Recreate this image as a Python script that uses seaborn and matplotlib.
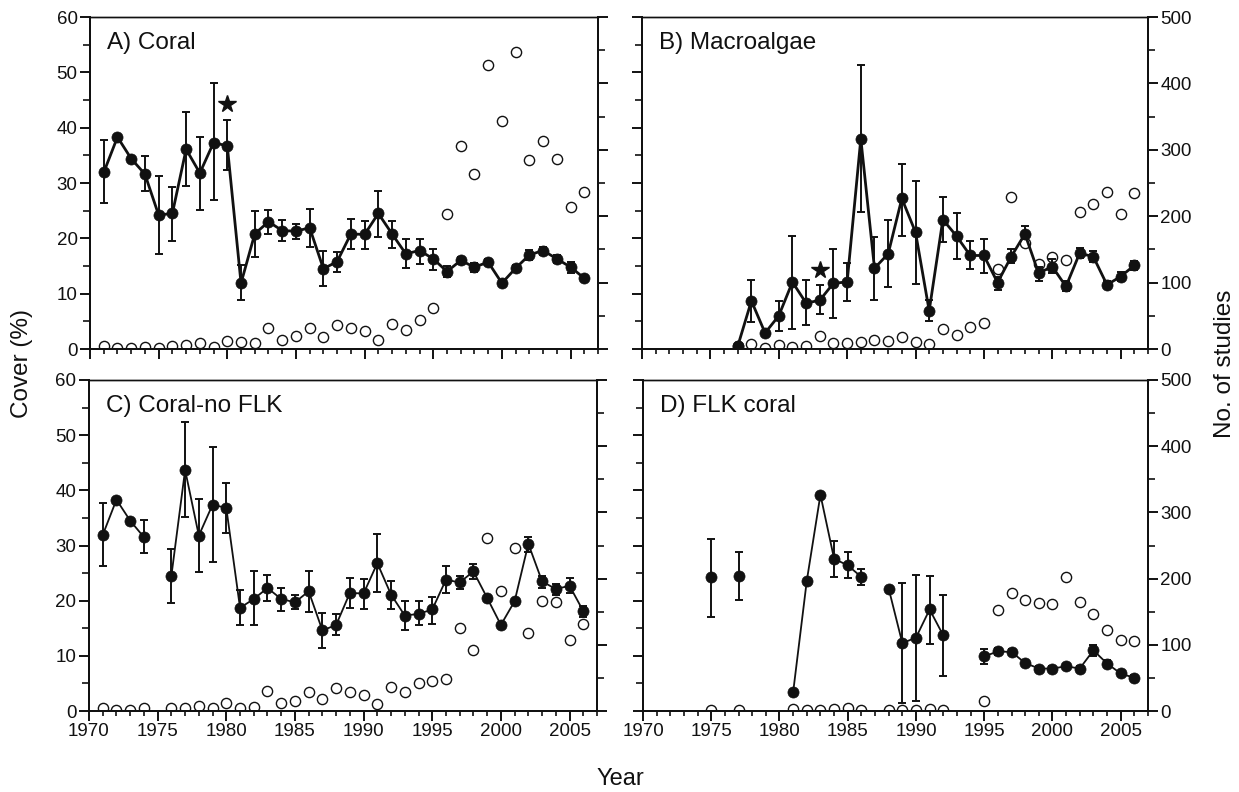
import numpy as np
import pandas as pd
import matplotlib
matplotlib.use("Agg")
import matplotlib.pyplot as plt
import seaborn as sns
from matplotlib.ticker import MultipleLocator

nan = np.nan

# ---------------- data ----------------
years_all = list(range(1971, 2007))

# A) Coral
a_cover = [31.9, 38.3, 34.4, 31.6, 24.2, 24.5, 36.1, 31.8, 37.3, 36.7, 11.9, 20.8,
           23.0, 21.4, 21.3, 21.9, 14.5, 15.8, 20.8, 20.7, 24.5, 20.8, 17.2, 17.8,
           16.3, 14.0, 16.0, 14.8, 15.7, 11.9, 14.6, 17.0, 17.8, 16.3, 14.8, 12.8]
a_hi = [37.7, nan, nan, 34.8, 31.3, 29.3, 42.9, 38.4, 48.0, 41.3, 15.1, 24.9,
        25.2, 23.4, 22.6, 25.3, 17.8, 17.6, 23.5, 23.2, 28.5, 23.1, 19.9, 19.9,
        18.0, 15.0, 16.6, 15.6, 16.3, 12.5, 15.2, 17.9, 18.5, 17.0, 15.8, 13.4]
a_lo = [26.3, nan, nan, 28.5, 17.2, 19.6, 29.4, 25.2, 27.0, 32.3, 8.8, 16.6,
        20.7, 19.5, 19.8, 18.4, 11.3, 14.0, 18.1, 18.0, 20.2, 18.3, 14.6, 15.4,
        14.3, 13.0, 15.4, 14.0, 15.1, 11.3, 14.0, 16.0, 17.0, 15.6, 13.8, 12.2]
a_studies = [5, 1.5, 1.5, 3, 1.5, 4, 5.5, 9, 3, 12.5, 10, 9, 31, 14, 19, 31, 18, 36,
             32, 27, 14, 38, 28, 43, 62, 204, 305, 263, 427, 344, 448, 284, 314, 286,
             214, 237]

# B) Macroalgae
b_years = list(range(1977, 2007))
b_cover = [0.5, 8.7, 2.9, 6.0, 12.1, 8.3, 8.8, 11.9, 12.1, 38.0, 14.6, 17.2, 27.2,
           21.1, 6.9, 23.4, 20.4, 16.9, 16.9, 12.0, 16.7, 20.8, 13.7, 14.9, 11.3,
           17.3, 16.7, 11.6, 13.1, 15.1]
b_hi = [nan, 12.4, nan, 8.7, 20.5, 12.4, 11.6, 18.1, 15.5, 51.3, 20.2, 23.3, 33.5,
        30.3, 8.9, 27.4, 24.6, 19.5, 19.9, 13.1, 18.0, 22.2, 14.9, 16.3, 12.2, 18.3,
        17.7, 12.2, 14.0, 15.9]
b_lo = [nan, 4.9, nan, 3.2, 3.6, 4.4, 6.3, 5.6, 8.6, 24.8, 8.9, 11.2, 20.5, 11.8,
        5.0, 19.3, 16.3, 14.5, 13.7, 10.7, 15.5, 19.8, 12.3, 13.7, 10.4, 16.4, 15.8,
        11.0, 12.2, 14.3]
b_studies = [4, 7.5, 1.5, 6.5, 2.5, 4, 19, 9, 9, 10, 14, 11.5, 18, 10, 7, 30, 21.6,
             33, 39, 120, 229, 159, 128, 139, 134, 207, 219, 237, 204, 235]

# C) Coral-no FLK
c_cover = [31.9, 38.3, 34.5, 31.5, nan, 24.5, 43.7, 31.8, 37.4, 36.8, 18.7, 20.3,
           22.3, 20.3, 19.7, 21.7, 14.6, 15.6, 21.4, 21.3, 26.8, 21.1, 17.3, 17.6,
           18.4, 23.8, 23.3, 25.3, 20.5, 15.6, 19.9, 30.3, 23.5, 22.1, 22.7, 18.1]
c_hi = [37.7, nan, nan, 34.7, nan, 29.4, 52.4, 38.4, 47.8, 41.3, 21.9, 25.3, 24.7,
        22.3, 21.1, 25.4, 17.8, 17.5, 24.1, 23.9, 32.1, 23.5, 19.9, 19.9, 20.6, 26.2,
        24.5, 26.7, nan, nan, nan, 31.6, 24.5, 23.1, 24.1, 19.0]
c_lo = [26.2, nan, nan, 28.6, nan, 19.6, 35.1, 25.2, 27.0, 32.2, 15.5, 15.5, 19.9,
        18.2, 18.4, 17.9, 11.4, 13.8, 18.7, 18.5, 21.6, 18.5, 14.6, 15.5, 15.8, 21.4,
        22.1, 23.9, nan, nan, nan, 28.9, 22.3, 21.1, 21.4, 17.1]
c_studies = [4, 1.5, 1.5, 4, nan, 4, 4, 7.5, 4, 11.5, 5, 6.5, 30, 11.5, 15.6, 29, 18,
             34, 28, 24, 10, 36, 28, 43, 45, 49, 126, 92, 262, 182, 246, 118, 166,
             164, 107, 131]

# D) FLK coral
d_years = [1975, 1977, 1981, 1982, 1983, 1984, 1985, 1986, 1988, 1989, 1990, 1991,
           1992, 1995, 1996, 1997, 1998, 1999, 2000, 2001, 2002, 2003, 2004, 2005, 2006]
d_cover = [24.3, 24.5, 3.4, 23.6, 39.2, 27.6, 26.4, 24.3, 22.2, 12.3, 13.3, 18.4,
           13.7, 9.9, 10.8, 10.7, 8.7, 7.7, 7.7, 8.1, 7.7, 11.0, 8.6, 6.8, 6.0]
d_hi = [31.2, 28.8, nan, nan, nan, 30.8, 28.8, 25.7, nan, 23.2, 24.7, 24.5, 21.1,
        11.3, 11.4, 11.3, 9.2, 8.2, 8.2, 8.6, 8.2, 12.0, 9.2, 7.3, 6.5]
d_lo = [17.1, 20.2, nan, nan, nan, 24.3, 24.1, 22.9, nan, 1.4, 1.75, 12.1, 6.3,
        8.6, 10.2, 10.1, 8.2, 7.2, 7.2, 7.6, 7.2, 10.0, 8.0, 6.3, 5.5]
d_studies = [2, 2, 3.5, 1, 1, 3, 4, 2, 1, 2, 2, 3, 2, 15, 153, 178, 168, 163, 162,
             202, 164, 147, 122, 107, 106]

titles = ["A) Coral", "B) Macroalgae", "C) Coral-no FLK", "D) FLK coral"]
star_a = (1980, 44.3)
star_b = (1983, 14.3)
x_ticks = [1970, 1975, 1980, 1985, 1990, 1995, 2000, 2005]

# ---------------- style ----------------
sns.set_theme(style="ticks")
plt.rcParams["font.family"] = ["Liberation Sans", "DejaVu Sans"]
plt.rcParams["axes.linewidth"] = 1.4
for k in ("axes.edgecolor", "xtick.color", "ytick.color", "text.color",
          "axes.labelcolor"):
    plt.rcParams[k] = "#111111"

fig = plt.figure(figsize=(12.39, 7.92), dpi=100)
W, H = 1239, 792


def add_ax(l, r, t, b):
    return fig.add_axes([l / W, 1 - b / H, (r - l) / W, (b - t) / H])


axA = add_ax(90, 598, 17, 349)
axB = add_ax(642, 1148, 17, 349)
axC = add_ax(89, 597, 380, 711)
axD = add_ax(643, 1148, 380, 711)


def draw(ax, yrs, cover, lo, hi, studies, lw, title, left_labels, right_labels,
         bottom_labels, star=None):
    df = pd.DataFrame(dict(year=yrs, cover=cover, lo=lo, hi=hi, studies=studies))
    dv = df.dropna(subset=["cover"]).copy()
    dv["seg"] = (dv["year"].diff() != 1).cumsum()
    ds = df.dropna(subset=["studies"])

    ax2 = ax.twinx()
    sns.scatterplot(data=ds, x="year", y="studies", ax=ax2, marker="o", s=54,
                    facecolor="white", edgecolor="#111111", linewidth=1.0,
                    legend=False, zorder=2)
    sns.lineplot(data=dv, x="year", y="cover", units="seg", estimator=None,
                 color="#111111", lw=lw, ax=ax, legend=False, zorder=3)
    de = dv.dropna(subset=["lo"])
    ax.errorbar(de["year"], de["cover"],
                yerr=[de["cover"] - de["lo"], de["hi"] - de["cover"]],
                fmt="none", ecolor="#111111", elinewidth=1.4, capsize=3.2,
                capthick=1.4, zorder=3)
    sns.scatterplot(data=dv, x="year", y="cover", ax=ax, s=64, color="#111111",
                    edgecolor="#111111", linewidth=0.5, legend=False, zorder=4)
    if star is not None:
        ax.plot([star[0]], [star[1]], marker="*", ms=13, color="#111111",
                linestyle="none", zorder=5)

    ax.set_zorder(ax2.get_zorder() + 1)
    ax.patch.set_visible(False)

    ax.set_xlim(1970, 2007)
    ax.set_ylim(0, 60)
    ax2.set_ylim(0, 500)
    ax.set_xticks(x_ticks)
    ax.xaxis.set_minor_locator(MultipleLocator(1))
    ax.yaxis.set_major_locator(MultipleLocator(10))
    ax.yaxis.set_minor_locator(MultipleLocator(5))
    ax2.yaxis.set_major_locator(MultipleLocator(100))
    ax2.yaxis.set_minor_locator(MultipleLocator(50))

    for a in (ax, ax2):
        a.tick_params(which="major", length=7, width=1.4, labelsize=13.5,
                      direction="out", pad=2)
        a.tick_params(which="minor", length=5, width=1.2, direction="out")
        a.set_xlabel("")
        a.set_ylabel("")
    ax.tick_params(axis="x", which="major", length=7)
    ax.tick_params(axis="x", which="minor", length=3.5)
    ax.tick_params(labelleft=left_labels, labelbottom=bottom_labels)
    ax2.tick_params(labelright=right_labels)
    ax.spines["top"].set_linewidth(1.0)
    ax2.spines["top"].set_linewidth(1.0)

    ax.text(0.033, 0.955, title, transform=ax.transAxes, ha="left", va="top",
            fontsize=17.5)
    return ax2


draw(axA, years_all, a_cover, a_lo, a_hi, a_studies, 2.0, titles[0],
     True, False, False, star=star_a)
draw(axB, b_years, b_cover, b_lo, b_hi, b_studies, 2.0, titles[1],
     False, True, False, star=star_b)
draw(axC, years_all, c_cover, c_lo, c_hi, c_studies, 1.3, titles[2],
     True, False, True)
draw(axD, d_years, d_cover, d_lo, d_hi, d_studies, 1.3, titles[3],
     False, True, True)

fig.text(22 / W, 1 - 364 / H, "Cover (%)", rotation=90, ha="center", va="center",
         fontsize=17.5)
fig.text(1225 / W, 1 - 364 / H, "No. of studies", rotation=90, ha="center",
         va="center", fontsize=17.5)
fig.text(620 / W, 1 - 779 / H, "Year", ha="center", va="center", fontsize=17)

fig.savefig("out.png", dpi=100)
